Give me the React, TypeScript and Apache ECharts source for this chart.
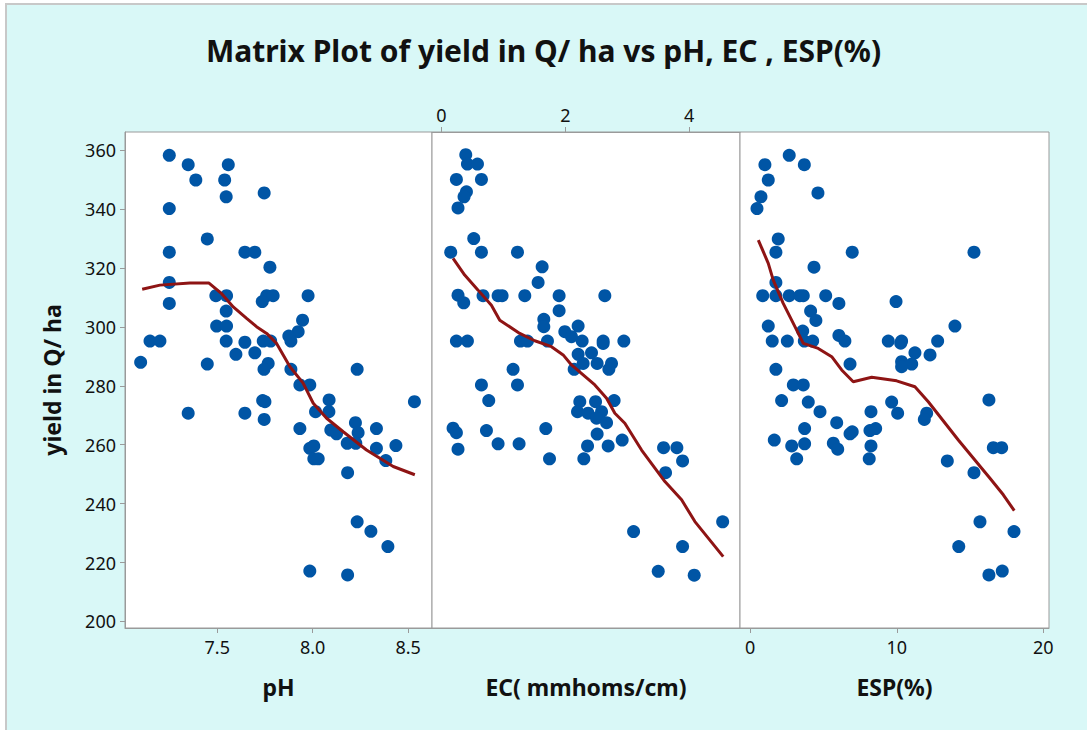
import React, { useEffect, useRef } from "react";
import * as echarts from "echarts";

const titleText = "Matrix Plot of yield in Q/ ha vs pH, EC , ESP(%)";
const yName = "yield in Q/ ha";
const xNames = ["pH", "EC( mmhoms/cm)", "ESP(%)"];
const yTicks = [200, 220, 240, 260, 280, 300, 320, 340, 360];
const phTicks = [7.5, 8.0, 8.5];
const ecTicks = [0, 2, 4];
const espTicks = [0, 10, 20];

// [pH, yield]
const phPoints = [
  [7.249, 358.3], [7.348, 355.1], [7.388, 349.9], [7.558, 355.1], [7.539, 349.9], [7.547, 344.2],
  [7.746, 345.5], [7.249, 340.2], [7.448, 329.9], [7.249, 325.4], [7.645, 325.4], [7.697, 325.4],
  [7.776, 320.3], [7.249, 315.1], [7.249, 308.0], [7.493, 310.6], [7.549, 310.6], [7.759, 310.6],
  [7.793, 310.6], [7.736, 308.6], [7.976, 310.6], [7.547, 305.4], [7.947, 302.3], [7.497, 300.3],
  [7.549, 300.3], [7.924, 298.4], [7.875, 296.9], [7.148, 295.2], [7.2, 295.2], [7.547, 295.2],
  [7.645, 294.8], [7.741, 295.2], [7.78, 295.2], [7.886, 295.2], [7.598, 290.7], [7.697, 291.2],
  [7.099, 288.0], [7.448, 287.4], [7.767, 287.6], [7.745, 285.6], [7.886, 285.6], [8.233, 285.6],
  [7.933, 280.3], [7.985, 280.3], [7.738, 275.0], [7.75, 274.6], [8.086, 275.2], [8.533, 274.6],
  [7.348, 270.7], [7.645, 270.7], [7.746, 268.6], [8.015, 271.2], [8.085, 271.2], [7.933, 265.5],
  [8.095, 265.0], [8.125, 263.7], [8.224, 267.5], [8.238, 264.1], [8.334, 265.5], [7.985, 258.8],
  [8.006, 259.6], [8.006, 255.2], [8.029, 255.2], [8.181, 260.5], [8.226, 260.5], [8.334, 258.8],
  [8.436, 259.7], [8.383, 254.6], [8.183, 250.5], [8.233, 233.8], [8.305, 230.6], [8.394, 225.4],
  [7.985, 217.1], [8.183, 215.8],
];

// [EC, yield]
const ecPoints = [
  [0.393, 358.5], [0.42, 355.3], [0.582, 355.3], [0.242, 350.1], [0.646, 350.1], [0.404, 345.9],
  [0.365, 344.2], [0.268, 340.4], [0.522, 330.0], [0.15, 325.4], [0.646, 325.4], [1.228, 325.4],
  [1.626, 320.4], [1.561, 315.1], [0.268, 310.8], [0.36, 308.2], [0.672, 310.6], [0.915, 310.6],
  [0.98, 310.6], [1.346, 310.6], [1.9, 310.6], [2.638, 310.6], [1.9, 305.5], [1.653, 302.6],
  [1.653, 300.1], [1.992, 298.4], [2.207, 300.3], [2.1, 296.7], [0.242, 295.2], [0.42, 295.2],
  [1.276, 295.2], [1.389, 295.2], [1.712, 295.2], [2.272, 295.2], [2.611, 295.2], [2.611, 294.4],
  [2.945, 295.2], [2.207, 290.7], [2.423, 291.2], [1.157, 285.6], [2.143, 285.6], [2.288, 287.6],
  [2.514, 287.6], [2.746, 287.6], [2.703, 285.6], [0.646, 280.3], [1.228, 280.3], [0.764, 275.0],
  [2.234, 274.6], [2.488, 274.6], [2.788, 275.0], [2.197, 271.2], [2.368, 270.7], [2.585, 271.2],
  [2.504, 269.0], [2.666, 267.5], [0.188, 265.6], [0.242, 264.1], [0.727, 264.8], [1.685, 265.5],
  [2.514, 263.6], [2.918, 261.6], [0.268, 258.5], [0.915, 260.3], [1.254, 260.3], [2.359, 259.6],
  [2.692, 259.6], [1.745, 255.2], [2.299, 255.2], [3.586, 259.0], [3.801, 259.0], [3.893, 254.5],
  [3.618, 250.5], [4.54, 233.8], [3.102, 230.5], [3.893, 225.4], [3.5, 217.0], [4.081, 215.7],
];

// [ESP, yield]
const espPoints = [
  [2.66, 358.3], [1.0, 355.1], [3.69, 355.1], [1.23, 349.9], [0.73, 344.2], [4.62, 345.5],
  [0.46, 340.2], [1.91, 329.9], [1.75, 325.4], [6.96, 325.4], [15.27, 325.4], [4.35, 320.3],
  [1.75, 315.1], [0.85, 310.6], [1.75, 310.6], [2.66, 310.6], [3.39, 310.6], [3.62, 310.6],
  [5.15, 310.6], [6.05, 308.0], [9.95, 308.6], [4.12, 305.4], [4.48, 302.2], [1.23, 300.3],
  [13.97, 300.3], [3.58, 298.6], [6.05, 297.1], [1.5, 295.2], [2.53, 295.2], [3.69, 295.2],
  [4.26, 295.2], [6.46, 295.2], [9.42, 295.2], [10.33, 295.2], [10.27, 294.5], [12.79, 295.2],
  [11.24, 291.2], [12.27, 290.5], [6.81, 287.4], [10.33, 288.2], [11.02, 287.4], [10.33, 286.5],
  [1.75, 285.6], [2.94, 280.3], [3.62, 280.3], [2.14, 275.0], [3.96, 274.5], [16.29, 275.2],
  [9.65, 274.5], [4.76, 271.2], [8.24, 271.2], [10.06, 270.7], [12.04, 270.7], [11.88, 268.6],
  [5.9, 267.5], [3.71, 265.5], [6.81, 263.7], [6.96, 264.4], [8.17, 264.8], [8.56, 265.5],
  [1.64, 261.6], [2.83, 259.6], [3.71, 260.3], [5.67, 260.5], [5.97, 258.5], [8.24, 259.6],
  [3.17, 255.2], [8.12, 255.2], [16.59, 259.0], [17.16, 259.0], [13.45, 254.5], [15.27, 250.5],
  [15.68, 233.8], [18.0, 230.5], [14.23, 225.4], [16.29, 215.8], [17.2, 217.1],
];

// smoother (lowess) lines
const phLine = [
  [7.107, 312.8], [7.2, 314.2], [7.357, 314.9], [7.457, 314.9], [7.52, 311.5], [7.584, 306.8],
  [7.654, 302.9], [7.706, 300.1], [7.759, 297.8], [7.811, 294.4], [7.881, 286.5], [7.95, 280.9],
  [8.003, 274.1], [8.073, 269.0], [8.16, 264.4], [8.282, 258.2], [8.422, 252.6], [8.535, 249.8],
];
const ecLine = [
  [0.188, 323.3], [0.376, 317.6], [0.592, 312.5], [0.807, 307.4], [0.942, 302.3], [1.265, 297.8],
  [1.507, 295.3], [1.777, 293.3], [1.965, 290.5], [2.1, 287.1], [2.288, 283.7], [2.477, 280.3],
  [2.666, 275.8], [2.8, 270.7], [2.961, 267.3], [3.231, 258.2], [3.608, 247.5], [3.877, 241.3],
  [4.092, 233.9], [4.549, 222.0],
];
const espLine = [
  [0.55, 329.5], [1.23, 321.6], [1.57, 315.9], [2.25, 308.0], [3.05, 300.1], [3.62, 294.4],
  [4.64, 292.7], [5.56, 289.9], [6.24, 285.4], [7.03, 281.4], [8.29, 282.9], [9.99, 281.7],
  [11.24, 279.7], [12.15, 274.6], [14.2, 261.6], [16.36, 248.6], [17.27, 243.0], [18.02, 237.6],
];

const FONT = "'Noto Sans', 'Open Sans', sans-serif";
const DOT = "#0055A5";
const LINE = "#8E1414";
const AXIS_GRAY = "#9A9A9A";

export default function App() {
  const ref = useRef<HTMLDivElement>(null);
  useEffect(() => {
    if (!ref.current) return;
    const chart = echarts.init(ref.current, null, { renderer: "svg" });
    const yMin = 197.76;
    const yMax = 366.2;
    const gridTop = 132;
    const gridH = 496;
    const grids = [
      { left: 125, top: gridTop, width: 307, height: gridH },
      { left: 432, top: gridTop, width: 308, height: gridH },
      { left: 740, top: gridTop, width: 309, height: gridH },
    ].map((g) => ({
      ...g,
      show: true,
      backgroundColor: "#FFFFFF",
      borderColor: AXIS_GRAY,
      borderWidth: 1,
    }));

    const tickLabel = { fontFamily: FONT, fontSize: 18, color: "#111" };
    const nameStyle = { fontFamily: FONT, fontSize: 23, fontWeight: "bold", color: "#111" };

    const xAxisBase = (gridIndex: number, min: number, max: number, ticks: number[], pos: string, fmt?: (v: number) => string) => ({
      type: "value",
      gridIndex,
      min,
      max,
      position: pos,
      splitLine: { show: false },
      axisLine: { show: true, lineStyle: { color: AXIS_GRAY, width: 1 } },
      axisTick: { show: true, length: 5, customValues: ticks, lineStyle: { color: AXIS_GRAY } },
      axisLabel: {
        ...tickLabel,
        margin: pos === "top" ? 8 : 10,
        customValues: ticks,
        formatter: fmt || ((v: number) => String(v)),
      },
    });

    const option: any = {
      animation: false,
      backgroundColor: "#D9F8F7",
      title: {
        text: titleText,
        left: "center",
        top: 30,
        textStyle: { fontFamily: FONT, fontSize: 30, fontWeight: "bold", color: "#111" },
      },
      grid: grids,
      xAxis: [
        {
          ...xAxisBase(0, 7.017, 8.625, phTicks, "bottom", (v: number) => v.toFixed(1)),
          name: xNames[0],
          nameLocation: "middle",
          nameGap: 47,
          nameTextStyle: nameStyle,
        },
        xAxisBase(1, -0.152, 4.82, ecTicks, "top"),
        {
          ...xAxisBase(2, -0.7, 20.39, espTicks, "bottom"),
          name: xNames[2],
          nameLocation: "middle",
          nameGap: 47,
          nameTextStyle: nameStyle,
        },
        {
          type: "value",
          gridIndex: 1,
          min: -0.152,
          max: 4.82,
          position: "bottom",
          axisLine: { show: true, lineStyle: { color: AXIS_GRAY } },
          axisTick: { show: false },
          axisLabel: { show: false },
          splitLine: { show: false },
          name: xNames[1],
          nameLocation: "middle",
          nameGap: 47,
          nameTextStyle: nameStyle,
        },
      ],
      yAxis: [0, 1, 2].map((i) => ({
        type: "value",
        gridIndex: i,
        min: yMin,
        max: yMax,
        splitLine: { show: false },
        axisLine: { show: i === 0, lineStyle: { color: AXIS_GRAY } },
        axisTick: { show: i === 0, length: 5, customValues: yTicks, lineStyle: { color: AXIS_GRAY } },
        axisLabel: { show: i === 0, ...tickLabel, margin: 9, customValues: yTicks },
        name: i === 0 ? yName : "",
        nameLocation: "middle",
        nameGap: 62,
        nameTextStyle: nameStyle,
      })),
      series: [
        { pts: phPoints, line: phLine, ax: 0 },
        { pts: ecPoints, line: ecLine, ax: 1 },
        { pts: espPoints, line: espLine, ax: 2 },
      ].flatMap((s) => [
        {
          type: "scatter",
          xAxisIndex: s.ax,
          yAxisIndex: s.ax,
          data: s.pts,
          symbol: "circle",
          symbolSize: 13,
          itemStyle: { color: DOT, opacity: 1 },
          z: 2,
        },
        {
          type: "line",
          xAxisIndex: s.ax,
          yAxisIndex: s.ax,
          data: s.line,
          showSymbol: false,
          symbol: "none",
          lineStyle: { color: LINE, width: 3 },
          z: 3,
        },
      ]),
      graphic: [
        { type: "rect", shape: { x: 5, y: 0, width: 2, height: 730 }, style: { fill: "#C8C8C8" }, silent: true },
        { type: "rect", shape: { x: 5, y: 3, width: 1082, height: 2 }, style: { fill: "#C8C8C8" }, silent: true },
        { type: "rect", shape: { x: 0, y: 0, width: 5, height: 730 }, style: { fill: "#FFFFFF" }, silent: true },
        { type: "rect", shape: { x: 5, y: 0, width: 1082, height: 3 }, style: { fill: "#FFFFFF" }, silent: true },
      ],
    };
    chart.setOption(option);
    return () => chart.dispose();
  }, []);
  return (
    <div
      ref={ref}
      style={{ position: "fixed", left: 0, top: 0, width: 1087, height: 730 }}
    />
  );
}
